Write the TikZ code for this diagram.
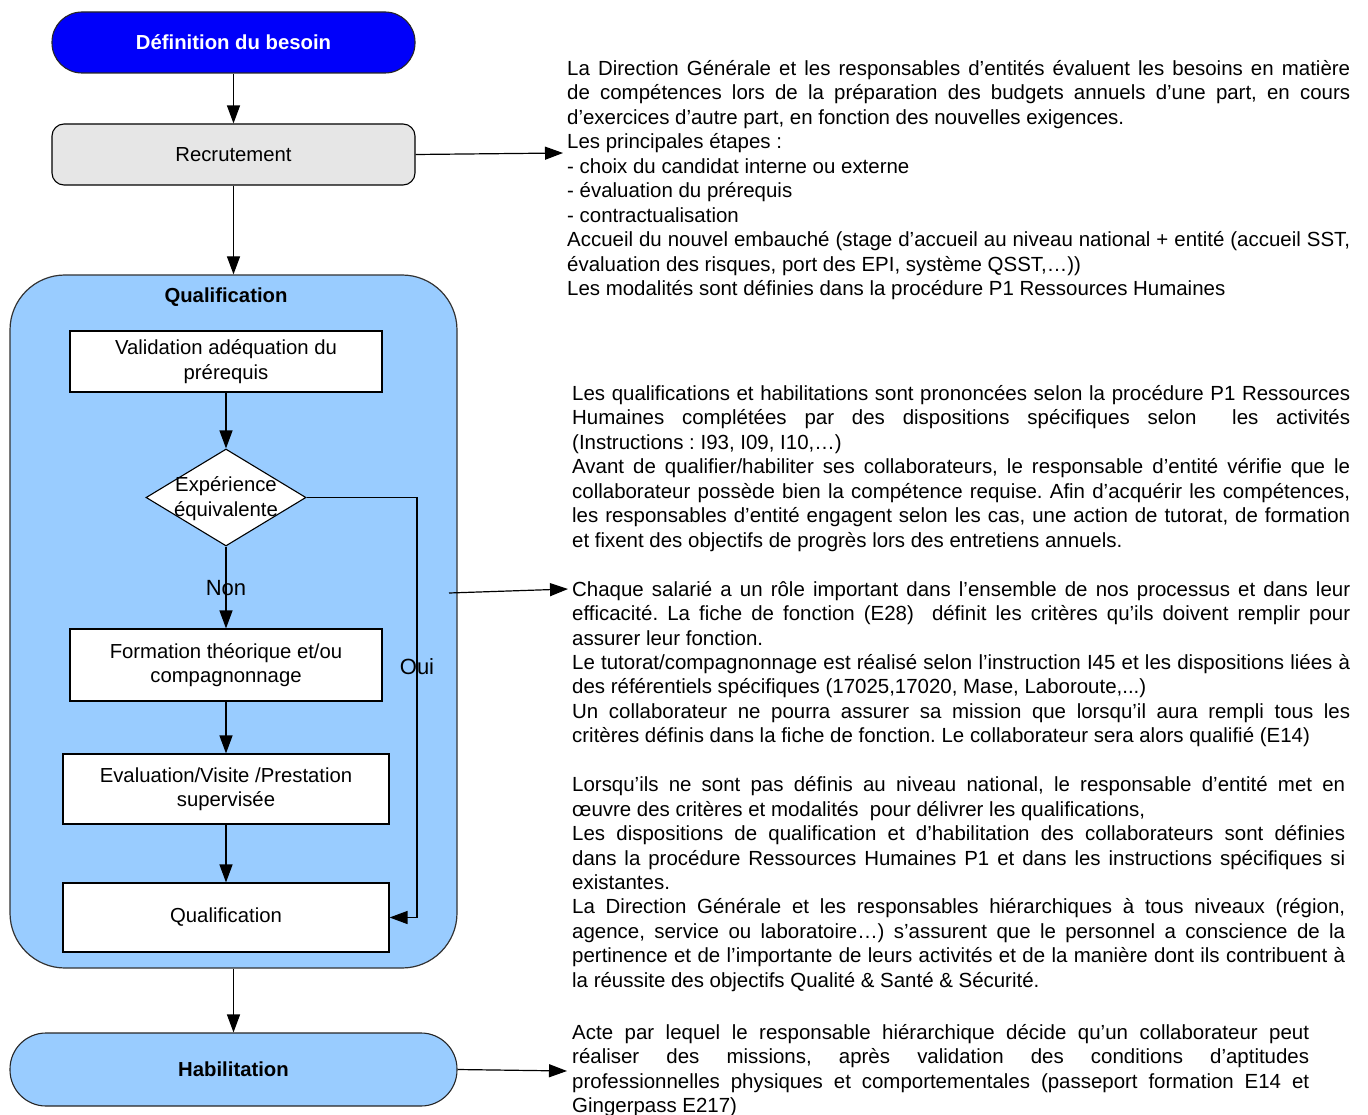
\documentclass[tikz,border=0pt]{standalone}
\usepackage{fontspec}
\setmainfont{Liberation Sans}
\usetikzlibrary{arrows.meta,shapes.geometric}

\definecolor{besoinblue}{RGB}{0,0,250}
\definecolor{qualblue}{RGB}{153,204,255}
\definecolor{recgrey}{RGB}{230,230,230}

% justified line (full width), shortened justified line, natural line
\newcommand\jline[1]{\hbox to\hsize{#1}}
\newcommand\jshort[1]{\hbox to 773pt{#1}}
\newcommand\nline[1]{\hbox{#1}}
\newcommand\blankline{\vskip24.45pt}
\newcommand\bodyfont{\fontsize{20.45}{24.45}\selectfont\frenchspacing}

\tikzset{
  x=1pt, y=-1pt,
  arr/.style={draw=black, line width=1.2pt, -{Triangle[length=18pt,width=13pt]}},
  stepbox/.style={draw=black, line width=1.1pt, fill=white, inner sep=0pt,
    align=center, font=\fontsize{20.3}{24.5}\selectfont},
  pill/.style={draw=black!85, line width=1.1pt, inner sep=0pt, align=center,
    font=\bfseries\fontsize{20.3}{24.5}\selectfont},
  decision/.style={diamond, draw=black, line width=1.1pt, fill=white, inner sep=0pt},
  branch/.style={font=\fontsize{22}{26}\selectfont, inner sep=0pt},
  notes/.style={anchor=base west, inner sep=0pt},
}

\begin{document}
\begin{tikzpicture}
\useasboundingbox (0,0) rectangle (1368,1115);

% ---- flow on the left ----
\node[pill, fill=besoinblue, text=white, rounded corners=30pt,
      minimum width=363pt, minimum height=61pt] (def) at (233.5,42.5) {Définition du besoin};
\node[stepbox, fill=recgrey, rounded corners=12pt,
      minimum width=363pt, minimum height=61pt] (rec) at (233.5,154.5) {Recrutement};

\node[draw=black!80, line width=1.2pt, fill=qualblue, rounded corners=55pt,
      minimum width=447pt, minimum height=693pt, inner sep=0pt] (qual) at (233.5,621.5) {};
\node[font=\bfseries\fontsize{20.3}{24.5}\selectfont, inner sep=0pt] (qualtitle) at (226,297.5) {Qualification};

\node[stepbox, minimum width=312pt, minimum height=61pt] (val) at (226,361.5)
  {Validation adéquation du\\prérequis};
\node[decision, minimum width=160pt, minimum height=97pt] (dia) at (226,497.5) {};
\node[font=\fontsize{20.3}{24.3}\selectfont, align=center, inner sep=0pt] (diatext) at (226,498.5)
  {Expérience\\équivalente};
\node[stepbox, minimum width=312pt, minimum height=72pt] (form) at (226,665)
  {Formation théorique et/ou\\compagnonnage};
\node[stepbox, minimum width=326pt, minimum height=70pt] (eval) at (226,789)
  {Evaluation/Visite /Prestation\\supervisée};
\node[stepbox, minimum width=326pt, minimum height=69pt] (qbox) at (226,917.5)
  {Qualification};

\node[pill, fill=qualblue, rounded corners=36pt,
      minimum width=447pt, minimum height=73pt] (hab) at (233.5,1069.5) {Habilitation};

% ---- connectors of the flow ----
\draw[arr] (def.south) -- (rec.north);
\draw[arr] (rec.south) -- (qual.north);
\draw[arr] (val.south) -- (dia.north);
\draw[arr] (dia.south) -- (form.north);
\node[branch] (non) at (226,588) {Non};
\draw[arr] (form.south) -- (eval.north);
\draw[arr] (eval.south) -- (qbox.north);
\coordinate (ouicorner) at (417,917.5);
\draw[arr] (dia.east) -| (ouicorner) -- (qbox.east);
\node[branch] (oui) at (417,667) {Oui};
\draw[arr] (qual.south) -- (hab.north);

% ---- links to the explanatory notes ----
\coordinate (recnote) at (563,153);
\coordinate (qualout) at (449,593);
\coordinate (qualnote) at (568,589);
\coordinate (habnote) at (567,1071);
\draw[arr] (rec.east) -- (recnote);
\draw[arr] (qualout) -- (qualnote);
\draw[arr] (hab.east) -- (habnote);

% ---- explanatory notes ----
\node[notes] (note1) at (567,75.5) {\vtop{\hsize=783pt \bodyfont
  \jline{La Direction Générale et les responsables d’entités évaluent les besoins en matière}
  \jline{de compétences lors de la préparation des budgets annuels d’une part, en cours}
  \nline{d’exercices d’autre part, en fonction des nouvelles exigences.}
  \nline{Les principales étapes :}
  \nline{- choix du candidat interne ou externe}
  \nline{- évaluation du prérequis}
  \nline{- contractualisation}
  \jline{Accueil du nouvel embauché (stage d’accueil au niveau national + entité (accueil SST,}
  \nline{évaluation des risques, port des EPI, système QSST,…))}
  \nline{Les modalités sont définies dans la procédure P1 Ressources Humaines}
}};

\node[notes] (note2) at (572,400.5) {\vtop{\hsize=778pt \bodyfont
  \jline{Les qualifications et habilitations sont prononcées selon la procédure P1 Ressources}
  \jline{Humaines complétées par des dispositions spécifiques selon\ \ les activités}
  \nline{(Instructions : I93, I09, I10,…)}
  \jline{Avant de qualifier/habiliter ses collaborateurs, le responsable d’entité vérifie que le}
  \jline{collaborateur possède bien la compétence requise. Afin d’acquérir les compétences,}
  \jline{les responsables d’entité engagent selon les cas, une action de tutorat, de formation}
  \nline{et fixent des objectifs de progrès lors des entretiens annuels.}
  \blankline
  \jline{Chaque salarié a un rôle important dans l’ensemble de nos processus et dans leur}
  \jline{efficacité. La fiche de fonction (E28)\ \ définit les critères qu’ils doivent remplir pour}
  \nline{assurer leur fonction.}
  \jline{Le tutorat/compagnonnage est réalisé selon l’instruction I45 et les dispositions liées à}
  \nline{des référentiels spécifiques (17025,17020, Mase, Laboroute,...)}
  \jline{Un collaborateur ne pourra assurer sa mission que lorsqu’il aura rempli tous les}
  \nline{critères définis dans la fiche de fonction. Le collaborateur sera alors qualifié (E14)}
  \blankline
  \jshort{Lorsqu’ils ne sont pas définis au niveau national, le responsable d’entité met en}
  \nline{œuvre des critères et modalités\ \ pour délivrer les qualifications,}
  \jshort{Les dispositions de qualification et d’habilitation des collaborateurs sont définies}
  \jshort{dans la procédure Ressources Humaines P1 et dans les instructions spécifiques si}
  \nline{existantes.}
  \jshort{La Direction Générale et les responsables hiérarchiques à tous niveaux (région,}
  \jshort{agence, service ou laboratoire…) s’assurent que le personnel a conscience de la}
  \jshort{pertinence et de l’importante de leurs activités et de la manière dont ils contribuent à}
  \nline{la réussite des objectifs Qualité \& Santé \& Sécurité.}
}};

\node[notes] (note3) at (572,1039.5) {\vtop{\hsize=737pt \bodyfont
  \jline{Acte par lequel le responsable hiérarchique décide qu’un collaborateur peut}
  \jline{réaliser des missions, après validation des conditions d’aptitudes}
  \jline{professionnelles physiques et comportementales (passeport formation E14 et}
  \nline{Gingerpass E217)}
}};
\end{tikzpicture}
\end{document}
